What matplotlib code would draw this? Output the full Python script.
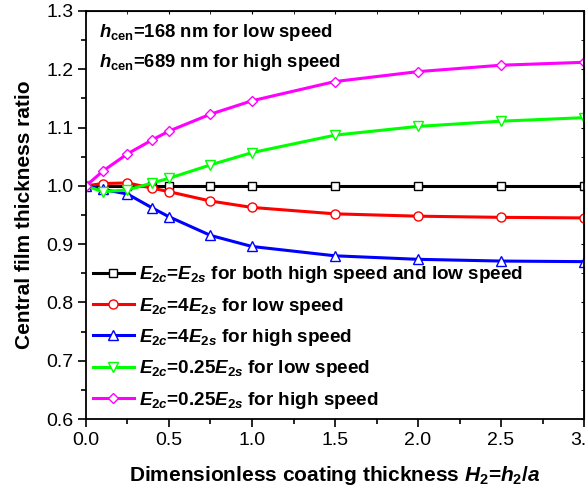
import matplotlib
matplotlib.use('Agg')
import matplotlib.pyplot as plt

plt.rcParams['font.family'] = ['Liberation Sans', 'DejaVu Sans']
plt.rcParams['mathtext.fontset'] = 'custom'
plt.rcParams['mathtext.it'] = 'Liberation Sans:italic:bold'
plt.rcParams['mathtext.rm'] = 'Liberation Sans:bold'
plt.rcParams['mathtext.bf'] = 'Liberation Sans:bold'

# coating thickness H2 and film thickness ratios
h2 = [0, 0.1, 0.25, 0.4, 0.5, 0.75, 1.0, 1.5, 2.0, 2.5, 3.0]
same = [1.0, 1.0, 1.0, 1.0, 1.0, 1.0, 1.0, 1.0, 1.0, 1.0, 1.0]
hard_low = [1.0, 1.004, 1.005, 0.996, 0.990, 0.974, 0.963, 0.952, 0.948, 0.946, 0.945]
hard_high = [1.0, 0.994, 0.986, 0.962, 0.947, 0.915, 0.896, 0.880, 0.874, 0.871, 0.870]
soft_low = [1.0, 0.990, 0.993, 1.005, 1.013, 1.036, 1.057, 1.087, 1.102, 1.111, 1.117]
soft_high = [1.0, 1.025, 1.055, 1.079, 1.094, 1.123, 1.146, 1.179, 1.196, 1.207, 1.212]

labels = [r'$E_{2c}$=$E_{2s}$ for both high speed and low speed',
          r'$E_{2c}$=4$E_{2s}$ for low speed',
          r'$E_{2c}$=4$E_{2s}$ for high speed',
          r'$E_{2c}$=0.25$E_{2s}$ for low speed',
          r'$E_{2c}$=0.25$E_{2s}$ for high speed']
notes = [r'$h_{\rm cen}$=168 nm for low speed',
         r'$h_{\rm cen}$=689 nm for high speed']

fig = plt.figure(figsize=(5.87, 4.91), dpi=100)
ax = fig.add_axes([0.1465, 0.1466, 0.8484, 0.831])

series = [(same, 'black', 's', 5.5), (hard_low, '#ff0000', 'o', 6.5),
          (hard_high, '#0000ff', '^', 7), (soft_low, '#00ff00', 'v', 7),
          (soft_high, '#ff00ff', 'D', 5.5)]
for (ys, col, mk, ms), lab in zip(series, labels):
    ax.plot(h2, ys, color=col, lw=2.2, marker=mk, ms=ms, mfc='white',
            mec=col, mew=1.0, label=lab)

ax.set_xlim(0, 3.0)
ax.set_ylim(0.6, 1.3)
ax.set_xticks([0, 0.5, 1.0, 1.5, 2.0, 2.5, 3.0])
ax.set_xticks([0.25, 0.75, 1.25, 1.75, 2.25, 2.75], minor=True)
ax.set_yticks([0.6, 0.7, 0.8, 0.9, 1.0, 1.1, 1.2, 1.3])
ax.set_yticks([0.65, 0.75, 0.85, 0.95, 1.05, 1.15, 1.25], minor=True)
ax.xaxis.set_major_formatter(matplotlib.ticker.FormatStrFormatter('%.1f'))
ax.yaxis.set_major_formatter(matplotlib.ticker.FormatStrFormatter('%.1f'))
ax.tick_params(which='major', direction='out', length=6, width=1.2, labelsize=14, pad=3)
ax.tick_params(which='minor', direction='out', length=3.5, width=1.2)
for s in ax.spines.values():
    s.set_linewidth(1.3)

sec = ax.secondary_xaxis('top')
sec.set_xticks([0, 0.5, 1.0, 1.5, 2.0, 2.5, 3.0])
sec.set_xticks([0.25, 0.75, 1.25, 1.75, 2.25, 2.75], minor=True)
sec.tick_params(which='both', direction='in', length=2, labeltop=False)
sec2 = ax.secondary_yaxis('right')
sec2.set_yticks([0.6, 0.7, 0.8, 0.9, 1.0, 1.1, 1.2, 1.3])
sec2.set_yticks([0.65, 0.75, 0.85, 0.95, 1.05, 1.15, 1.25], minor=True)
sec2.tick_params(which='both', direction='in', length=2, labelright=False)

ax.set_xlabel(r'Dimensionless coating thickness $H_{\rm 2}$=$h_{\rm 2}/a$',
              fontsize=15, fontweight='bold', labelpad=11)
ax.set_ylabel('Central film thickness ratio', fontsize=15, fontweight='bold', labelpad=9)

ax.text(0.026, 0.936, notes[0], transform=ax.transAxes, fontsize=13.3,
        fontweight='bold', va='baseline')
ax.text(0.026, 0.863, notes[1], transform=ax.transAxes, fontsize=13.3,
        fontweight='bold', va='baseline')

leg = ax.legend(loc='center left', bbox_to_anchor=(0.014, 0.2), frameon=False,
                prop={'weight': 'bold', 'size': 13.6},
                handlelength=2.15, handletextpad=0.3, labelspacing=0.55,
                borderpad=0, borderaxespad=0)

fig.savefig('out.png', dpi=100)
